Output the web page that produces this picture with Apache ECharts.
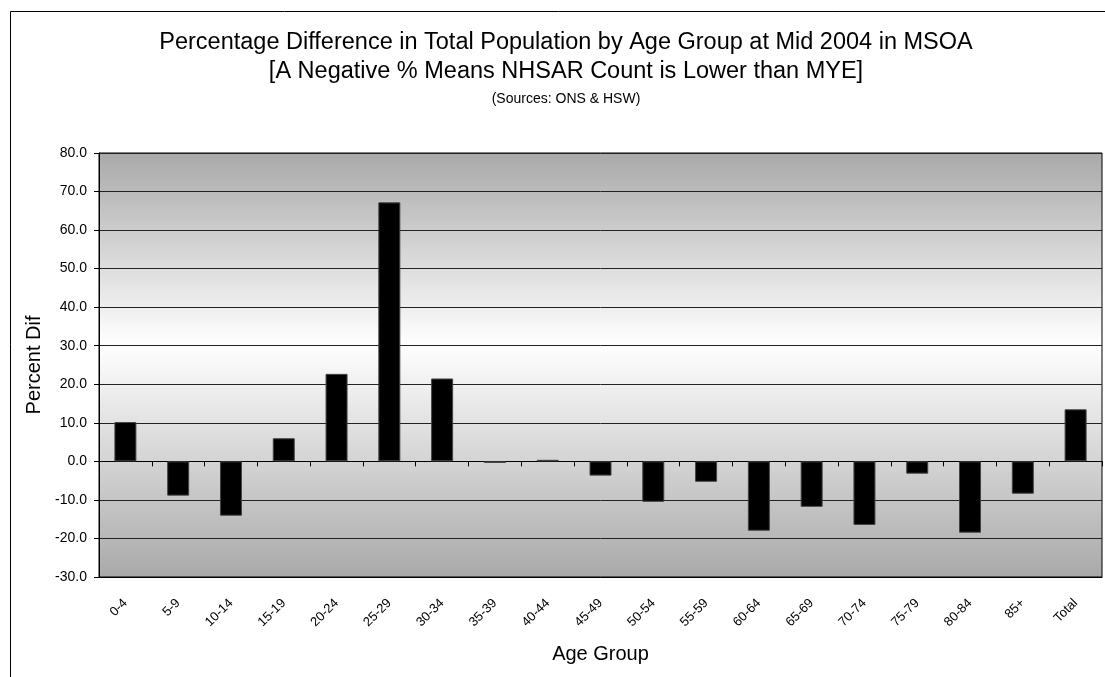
<!DOCTYPE html>
<html>
<head>
<meta charset="utf-8">
<script src="https://cdn.jsdelivr.net/npm/echarts@6/dist/echarts.min.js"></script>
<style>html,body{margin:0;padding:0;background:#fff;}#c{width:1105px;height:677px;}</style>
</head>
<body>
<div id="c"></div>
<script>
const categories = ['0-4','5-9','10-14','15-19','20-24','25-29','30-34','35-39','40-44','45-49','50-54','55-59','60-64','65-69','70-74','75-79','80-84','85+','Total'];
const percentDif = [10.2,-8.9,-14.1,6.0,22.7,67.2,21.5,-0.4,0.4,-3.7,-10.5,-5.3,-18.0,-11.8,-16.5,-3.2,-18.5,-8.4,13.5];
const titleLines = ['Percentage Difference in Total Population by Age Group at Mid 2004 in MSOA','[A Negative % Means NHSAR Count is Lower than MYE]','(Sources: ONS & HSW)'];
const yName = 'Percent Dif';
const xName = 'Age Group';

const FONT = '"Liberation Sans", Arial, sans-serif';
const chart = echarts.init(document.getElementById('c'));
chart.setOption({
  animation: false,
  backgroundColor: '#fff',
  textStyle: {fontFamily: FONT, color: '#000'},
  title: [
    {text: titleLines[0], left: 561, top: 26, textAlign: 'center', textStyle: {fontFamily: FONT, fontSize: 23.5, fontWeight: 'normal', color: '#000'}},
    {text: titleLines[1], left: 561, top: 55, textAlign: 'center', textStyle: {fontFamily: FONT, fontSize: 23.5, fontWeight: 'normal', color: '#000'}},
    {text: titleLines[2], left: 561, top: 87, textAlign: 'center', textStyle: {fontFamily: FONT, fontSize: 14, fontWeight: 'normal', color: '#000'}}
  ],
  graphic: [{
    type: 'rect', left: 8, top: 9, shape: {x: 0, y: 0, width: 1110, height: 700},
    style: {fill: 'none', stroke: '#000', lineWidth: 1}, silent: true, z: 100
  }],
  grid: {
    left: 99, right: 3, top: 153, bottom: 100, show: true, borderColor: '#000', borderWidth: 1,
    backgroundColor: {type: 'linear', x: 0, y: 0, x2: 0, y2: 1, colorStops: [
      {offset: 0, color: '#a9a9a9'}, {offset: 0.45, color: '#ffffff'}, {offset: 1, color: '#a9a9a9'}]}
  },
  xAxis: [{
    type: 'category', data: categories, position: 'bottom',
    axisLine: {onZero: false, show: true, lineStyle: {color: '#000'}},
    axisTick: {show: false},
    axisLabel: {rotate: 45, fontSize: 13, color: '#000', fontFamily: FONT, margin: 24, interval: 0},
    name: xName, nameLocation: 'middle', nameGap: 67,
    nameTextStyle: {fontSize: 20, color: '#000', fontFamily: FONT}
  }, {
    type: 'category', data: categories, position: 'bottom',
    axisLine: {onZero: true, show: true, lineStyle: {color: '#000'}},
    axisTick: {show: true, length: 5, lineStyle: {color: '#000'}},
    axisLabel: {show: false}
  }],
  yAxis: {
    type: 'value', min: -30, max: 80, interval: 10,
    axisLine: {show: true, lineStyle: {color: '#000'}},
    axisTick: {show: true, length: 5, lineStyle: {color: '#000'}},
    axisLabel: {formatter: v => v.toFixed(1), fontSize: 14, color: '#000', fontFamily: FONT, margin: 12},
    splitLine: {show: true, lineStyle: {color: '#222', width: 1}},
    name: yName, nameLocation: 'middle', nameGap: 52, nameRotate: 90,
    nameTextStyle: {fontSize: 20, color: '#000', fontFamily: FONT}
  },
  series: [{
    type: 'bar', data: percentDif, xAxisIndex: 0, barWidth: 22,
    itemStyle: {color: '#000', borderColor: '#444', borderWidth: 1}
  }]
});
</script>
</body>
</html>
